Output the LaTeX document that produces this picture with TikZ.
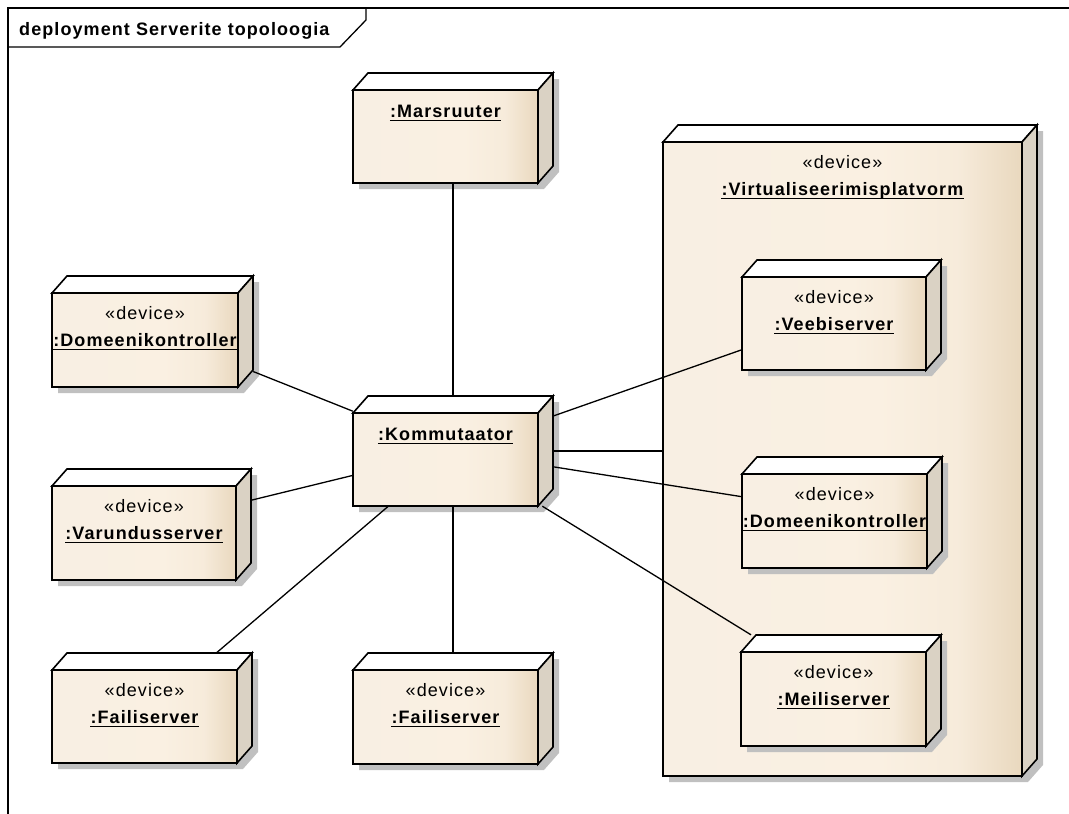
\documentclass[tikz,border=0pt]{standalone}
\usepackage{fontspec}
\setmainfont{Liberation Sans}[LetterSpace=6]

\definecolor{boxleft}{RGB}{248,239,227}
\definecolor{boxmid}{RGB}{250,240,226}
\definecolor{boxright}{RGB}{233,216,190}
\definecolor{boxside}{RGB}{218,210,196}
\definecolor{boxshadow}{RGB}{192,192,192}

\pgfdeclarehorizontalshading{boxfill}{100bp}{color(0bp)=(boxleft); color(25bp)=(boxleft); color(55bp)=(boxmid); color(66bp)=(boxmid!80!boxright); color(75bp)=(boxright); color(100bp)=(boxright)}

\pgfdeclarelayer{backshade}
\pgfdeclarelayer{back}
\pgfdeclarelayer{boxesshade}
\pgfdeclarelayer{wires}
\pgfdeclarelayer{boxes}
\pgfsetlayers{backshade,back,boxesshade,wires,boxes,main}

\tikzset{
  box/.style={line width=1.6pt, draw=black, line join=miter},
  wire/.style={line width=1.3pt},
  frame/.style={line width=1.3pt},
  stereo/.style={font=\fontsize{18}{21}\selectfont, inner sep=0pt, anchor=base},
  uname/.style={font=\fontsize{18}{21}\selectfont\bfseries, inner sep=0pt, anchor=base,
    append after command={([yshift=-3.5pt]\tikzlastnode.base west) edge[line width=1.5pt] ([yshift=-3.5pt]\tikzlastnode.base east)}},
}

% [layer] name, left, top, width, height of the front face
\newcommand{\devicebox}[6][boxes]{%
  \begin{pgfonlayer}{#1shade}
    \fill[boxshadow] ({#3+6},{#4+6}) -- ++(15,-17) -- ++(#5,0) -- ++(0,#6) -- ++(-15,17) -- ++(-#5,0) -- cycle;
  \end{pgfonlayer}
  \begin{pgfonlayer}{#1}
    \shade[shading=boxfill] (#3,#4) rectangle ++(#5,#6);
    \draw[box] (#3,#4) rectangle ++(#5,#6);
    \filldraw[box, fill=white] (#3,#4) -- ++(15,-17) -- ++(#5,0) -- ++(-15,17) -- cycle;
    \filldraw[box, fill=boxside] ({#3+#5},#4) -- ++(15,-17) -- ++(0,#6) -- ++(-15,17) -- cycle;
    \node[inner sep=0pt, minimum width={#5pt+15pt}, minimum height={#6pt+17pt}] (#2) at ({#3+(#5+15)/2},{#4+(#6-17)/2}) {};
  \end{pgfonlayer}
}

\begin{document}
\begin{tikzpicture}[x=1pt,y=-1pt]
  \useasboundingbox (0,0) rectangle (1069,814);

  % frame
  \draw[frame] (8,814) -- (8,8) -- (1069,8);
  \draw[frame] (8,47) -- (340,47) -- (366,20) -- (366,8);
  \node[font=\fontsize{18}{21}\selectfont\bfseries, inner sep=0pt, anchor=base west] (title) at (19,35) {deployment Serverite topoloogia};

  % platform
  \devicebox[back]{vir}{663}{142}{359}{634}
  \node[stereo] (vir-st) at (842.5,168) {«device»};
  \node[uname] (vir-nm) at (842.5,195) {:Virtualiseerimisplatvorm};

  \devicebox{mar}{353}{90}{185}{93}
  \node[uname] (mar-nm) at (445.5,117) {:Marsruuter};

  \devicebox{kom}{353}{413}{185}{93}
  \node[uname] (kom-nm) at (445.5,440) {:Kommutaator};

  \devicebox{dom1}{52}{293}{186}{94}
  \node[stereo] (dom1-st) at (145,319) {«device»};
  \node[uname] (dom1-nm) at (145,346) {:Domeenikontroller};

  \devicebox{var}{52}{486}{184}{94}
  \node[stereo] (var-st) at (144,512) {«device»};
  \node[uname] (var-nm) at (144,539) {:Varundusserver};

  \devicebox{fai1}{52}{670}{185}{93}
  \node[stereo] (fai1-st) at (144.5,696) {«device»};
  \node[uname] (fai1-nm) at (144.5,723) {:Failiserver};

  \devicebox{fai2}{353}{670}{185}{94}
  \node[stereo] (fai2-st) at (445.5,696) {«device»};
  \node[uname] (fai2-nm) at (445.5,723) {:Failiserver};

  \devicebox{vee}{742}{277}{184}{93}
  \node[stereo] (vee-st) at (834,303) {«device»};
  \node[uname] (vee-nm) at (834,330) {:Veebiserver};

  \devicebox{dom2}{742}{474}{185}{94}
  \node[stereo] (dom2-st) at (834.5,500) {«device»};
  \node[uname] (dom2-nm) at (834.5,527) {:Domeenikontroller};

  \devicebox{mei}{741}{652}{185}{94}
  \node[stereo] (mei-st) at (833.5,678) {«device»};
  \node[uname] (mei-nm) at (833.5,705) {:Meiliserver};

  \begin{pgfonlayer}{wires}
    \draw[wire] (mar) -- (kom);
    \draw[wire] (dom1) -- (kom);
    \draw[wire] (var) -- (kom);
    \draw[wire] (fai1) -- (kom);
    \draw[wire] (fai2) -- (kom);
    \draw[wire] (kom) -- (vee);
    \draw[wire] (kom) -- (kom -| vir.west);
    \draw[wire] (kom) -- (dom2);
    \draw[wire] (kom) -- (mei);
  \end{pgfonlayer}
\end{tikzpicture}
\end{document}
